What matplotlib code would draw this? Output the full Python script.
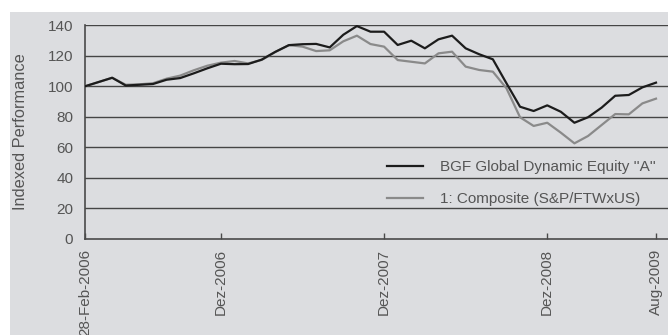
import matplotlib
matplotlib.use("Agg")
import matplotlib.pyplot as plt
from matplotlib.patches import Rectangle

# Monthly indexed performance, Feb-2006 = 100
months = list(range(43))
fund = [100, 102.8, 105.6, 100.5, 101, 101.5, 104.3, 105.4, 108.5, 111.8,
        114.8, 114.5, 114.6, 117.5, 122.6, 127, 127.6, 127.8, 125.5, 133.8,
        139.5, 135.8, 135.8, 127.1, 129.9, 124.9, 130.8, 133.2, 124.9, 121,
        117.7, 102, 86.6, 83.8, 87.5, 83.3, 76.1, 79.7, 86, 93.8,
        94.3, 99.3, 102.4]
benchmark = [100, 102.8, 105.6, 101, 101.3, 102, 105, 107, 110.5, 113.5,
             115.5, 116.6, 115, 117.3, 122.5, 127, 126, 123.1, 123.6, 129.5,
             133.2, 127.7, 126, 117.2, 116.1, 115, 121.6, 122.7, 112.9, 110.7,
             109.6, 98.7, 79.7, 74, 76.1, 69.6, 62.6, 67.4, 74.6, 81.8,
             81.6, 88.8, 91.9]
fund_label = "BGF Global Dynamic Equity ''A''"
benchmark_label = "1: Composite (S&P/FTWxUS)"
tick_months = [0, 10, 22, 34, 42]
tick_labels = ["28-Feb-2006", "Dez-2006", "Dez-2007", "Dez-2008", "Aug-2009"]
y_ticks = [0, 20, 40, 60, 80, 100, 120, 140]

plt.rcParams['font.family'] = ['Liberation Sans', 'DejaVu Sans']

panel = "#dcdde0"
text_col = "#555555"
fs = 11

fig = plt.figure(figsize=(6.68, 3.35), dpi=100)
fig.patch.set_facecolor("white")
fig.patches.append(Rectangle((10 / 668, 0), 1 - 10 / 668, (335 - 11.7) / 335,
                             transform=fig.transFigure, facecolor=panel,
                             edgecolor="none", zorder=0))

ax = fig.add_axes([85 / 668, 1 - 238.8 / 335, 1 - 85 / 668, (238.8 - 25.3) / 335])
ax.set_zorder(2)
ax.set_facecolor("none")

for y in y_ticks[1:]:
    ax.axhline(y, color="#454545", lw=1.0, zorder=1)

ax.plot(months, benchmark, color="#8a8a8a", lw=1.6, label=benchmark_label, zorder=3)
ax.plot(months, fund, color="#1c1c1c", lw=1.6, label=fund_label, zorder=4)

ax.set_xlim(0, 583 / 13.595)
ax.set_ylim(0, 140)
ax.set_yticks(y_ticks)
ax.set_xticks(tick_months)
ax.set_xticklabels(tick_labels, rotation=90, va="top", ha="center")

for side in ("top", "right"):
    ax.spines[side].set_visible(False)
for side in ("left", "bottom"):
    ax.spines[side].set_color("#4a4a4a")
    ax.spines[side].set_linewidth(1.2)

ax.tick_params(axis="y", length=0, pad=8.5, labelsize=fs, labelcolor=text_col)
ax.tick_params(axis="x", direction="in", length=4, width=1, color="#4a4a4a",
               pad=7, labelsize=fs, labelcolor=text_col)

ax.set_ylabel("Indexed Performance", fontsize=11.8, color=text_col)
ax.yaxis.set_label_coords(-57 / 583, 0.5)

handles, labels = ax.get_legend_handles_labels()
leg = ax.legend(handles[::-1], labels[::-1], loc="upper left",
                bbox_to_anchor=(0.5175, 0.368), frameon=False, borderpad=0,
                borderaxespad=0, handlelength=2.4, handletextpad=1.1,
                labelspacing=1.17, fontsize=fs, labelcolor=text_col)

fig.savefig("out.png", dpi=100, facecolor="white")
